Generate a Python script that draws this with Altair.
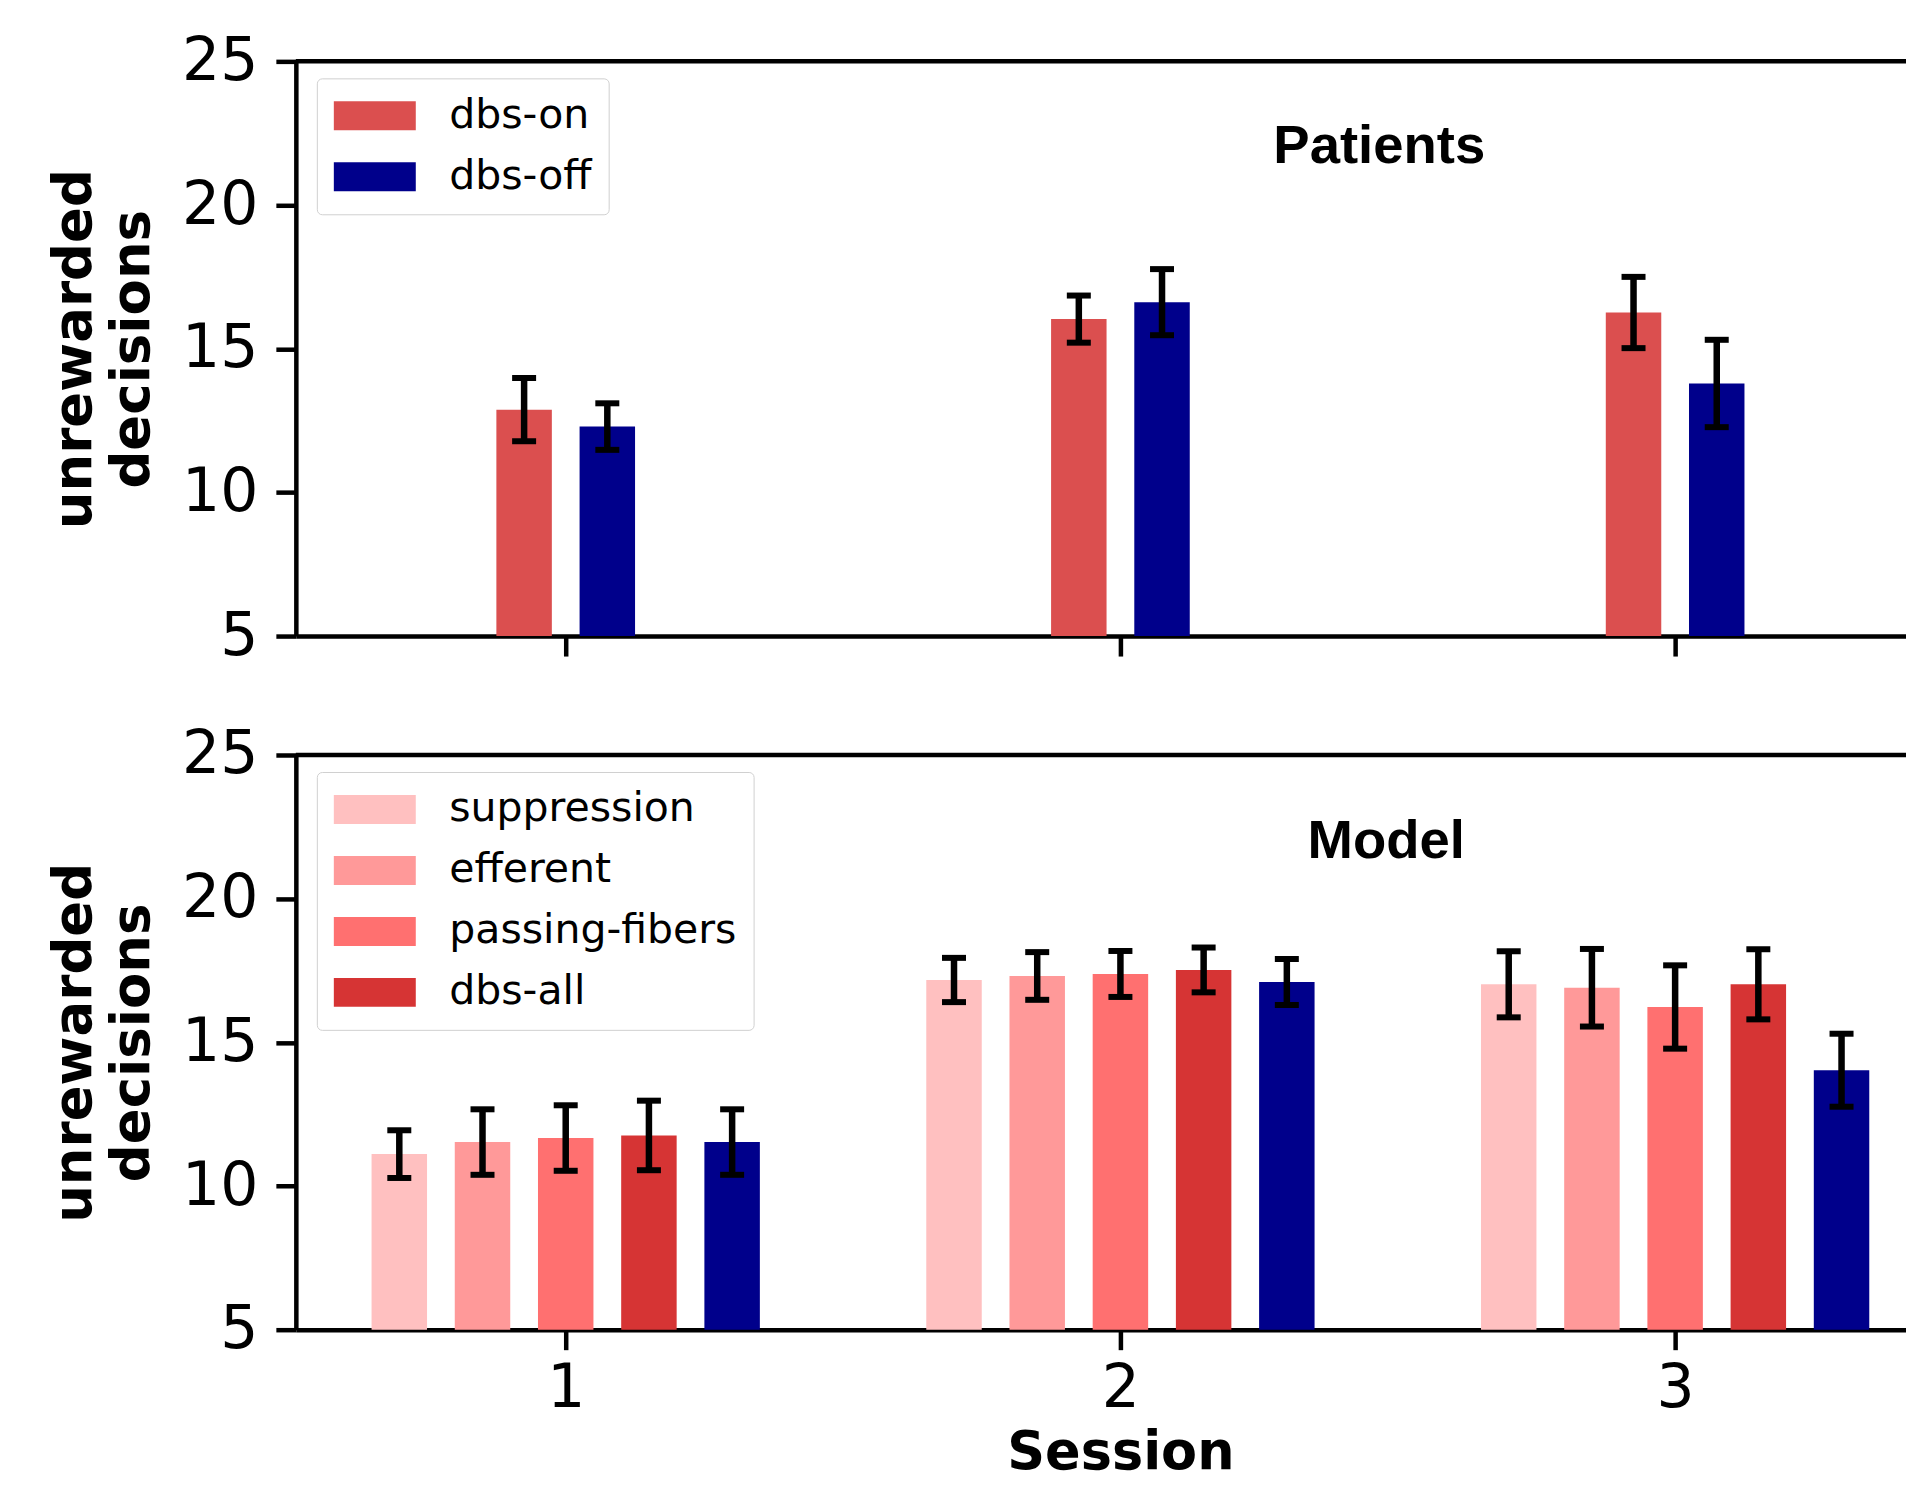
import altair as alt
import pandas as pd

# ---------------- data ----------------
sessions = [1, 2, 3]

patient_groups = ["dbs-on", "dbs-off"]
patient_colors = ["#DB4F4F", "#00008B"]
patient_mean = {
    "dbs-on": [12.88, 16.03, 16.26],
    "dbs-off": [12.29, 16.62, 13.79],
}
patient_err = {
    "dbs-on": [1.10, 0.82, 1.24],
    "dbs-off": [0.81, 1.15, 1.52],
}

model_groups = ["suppression", "efferent", "passing-fibers", "dbs-all", "dbs-off"]
model_legend = ["suppression", "efferent", "passing-fibers", "dbs-all"]
model_colors = ["#FFC0C0", "#FF9999", "#FF7070", "#D63434", "#00008B"]
model_mean = {
    "suppression": [11.11, 17.17, 17.02],
    "efferent": [11.53, 17.31, 16.90],
    "passing-fibers": [11.67, 17.38, 16.23],
    "dbs-all": [11.76, 17.52, 17.02],
    "dbs-off": [11.53, 17.10, 14.03],
}
model_err = {
    "suppression": [0.83, 0.77, 1.15],
    "efferent": [1.14, 0.83, 1.35],
    "passing-fibers": [1.14, 0.80, 1.45],
    "dbs-all": [1.21, 0.78, 1.22],
    "dbs-off": [1.14, 0.80, 1.27],
}

y_ticks = [5, 10, 15, 20, 25]

# ---------------- layout constants ----------------
BAR_W = 0.1
STEP = 0.15
W = 1650
H = 575
X_DOMAIN = [0.5135, 0.5135 + W / 555.0]


def make_df(groups, means, errs):
    rows = []
    n = len(groups)
    for gi, g in enumerate(groups):
        off = (gi - (n - 1) / 2) * STEP
        for si, s in enumerate(sessions):
            m = means[g][si]
            e = errs[g][si]
            xc = s + off
            rows.append(dict(session=s, group=g, mean=m, err=e, xc=xc,
                             x0=xc - BAR_W / 2, x1=xc + BAR_W / 2,
                             lo=m - e, hi=m + e))
    return pd.DataFrame(rows)


def panel(df, groups, colors, legend_values, title, title_x, title_y, bottom):
    xs = alt.Scale(domain=X_DOMAIN, nice=False, zero=False)
    ys = alt.Scale(domain=[5, 25], nice=False, zero=False)
    if bottom:
        xaxis = alt.Axis(values=sessions, format="d", title="Session",
                         labelFontSize=60, labelPadding=10, titleFontSize=52.5,
                         titleFontWeight="bold", titlePadding=9)
    else:
        xaxis = alt.Axis(values=sessions, labels=False, title=None)
    yaxis = alt.Axis(values=y_ticks, title=["unrewarded", "decisions"],
                     labelFontSize=60, labelPadding=18, titleFontSize=53,
                     titleFontWeight="bold", titleLineHeight=58, titlePadding=22)
    legend = alt.Legend(
        orient="none", legendX=21, legendY=17, title=None,
        values=legend_values,
        symbolType="M-2,-0.707H2V0.707H-2Z", symbolSize=1681,
        symbolOffset=20.5,
        symbolStrokeWidth=0, symbolOpacity=1,
        labelFont="DejaVu Sans", labelFontSize=41, labelOffset=54,
        labelColor="black", labelLimit=800,
        rowPadding=19, padding=17,
        strokeColor="#d0d0d0", fillColor="white", cornerRadius=5,
    )
    base = alt.Chart(df)
    bars = base.mark_bar().encode(
        x=alt.X("x0:Q", scale=xs, axis=xaxis),
        x2="x1:Q",
        y=alt.Y("mean:Q", scale=ys, axis=yaxis),
        y2=alt.datum(5),
        color=alt.Color("group:N",
                        scale=alt.Scale(domain=groups, range=colors),
                        legend=legend),
    )
    stems = base.mark_rule(color="black", strokeWidth=6.5).encode(
        x="xc:Q", y="lo:Q", y2="hi:Q")
    caps_lo = base.mark_tick(color="black", orient="horizontal", size=24,
                             thickness=6, opacity=1).encode(x="xc:Q", y="lo:Q")
    caps_hi = base.mark_tick(color="black", orient="horizontal", size=24,
                             thickness=6, opacity=1).encode(x="xc:Q", y="hi:Q")
    one = alt.Chart(pd.DataFrame({"label": [title]}))
    top_spine = one.mark_rule(color="black", strokeWidth=4.5).encode(
        x=alt.value(0), x2=alt.value(W), y=alt.value(0))
    ttl = one.mark_text(font="Liberation Sans", fontWeight="bold", fontSize=54.5,
                        align="center", baseline="alphabetic",
                        color="black").encode(
        text="label:N", x=alt.value(title_x), y=alt.value(title_y))
    return alt.layer(bars, stems, caps_lo, caps_hi, top_spine, ttl).properties(
        width=W, height=H)


df_p = make_df(patient_groups, patient_mean, patient_err)
df_m = make_df(model_groups, model_mean, model_err)

top = panel(df_p, patient_groups, patient_colors, patient_groups,
            "Patients", 1084, 102, False)
bot = panel(df_m, model_groups, model_colors, model_legend,
            "Model", 1091, 103, True)

chart = alt.vconcat(top, bot, spacing=57).resolve_scale(
    color="independent"
).properties(
    padding={"left": 40, "top": 22, "right": -42, "bottom": 7},
    background="white",
).configure_view(
    stroke="transparent"
).configure_axis(
    labelFont="DejaVu Sans", titleFont="DejaVu Sans", labelColor="black",
    titleColor="black", domainColor="black", tickColor="black",
    domainWidth=4.5, tickWidth=4.5, tickSize=20, grid=False,
)

chart.save("out.html", embed_options={"renderer": "svg", "actions": False})
